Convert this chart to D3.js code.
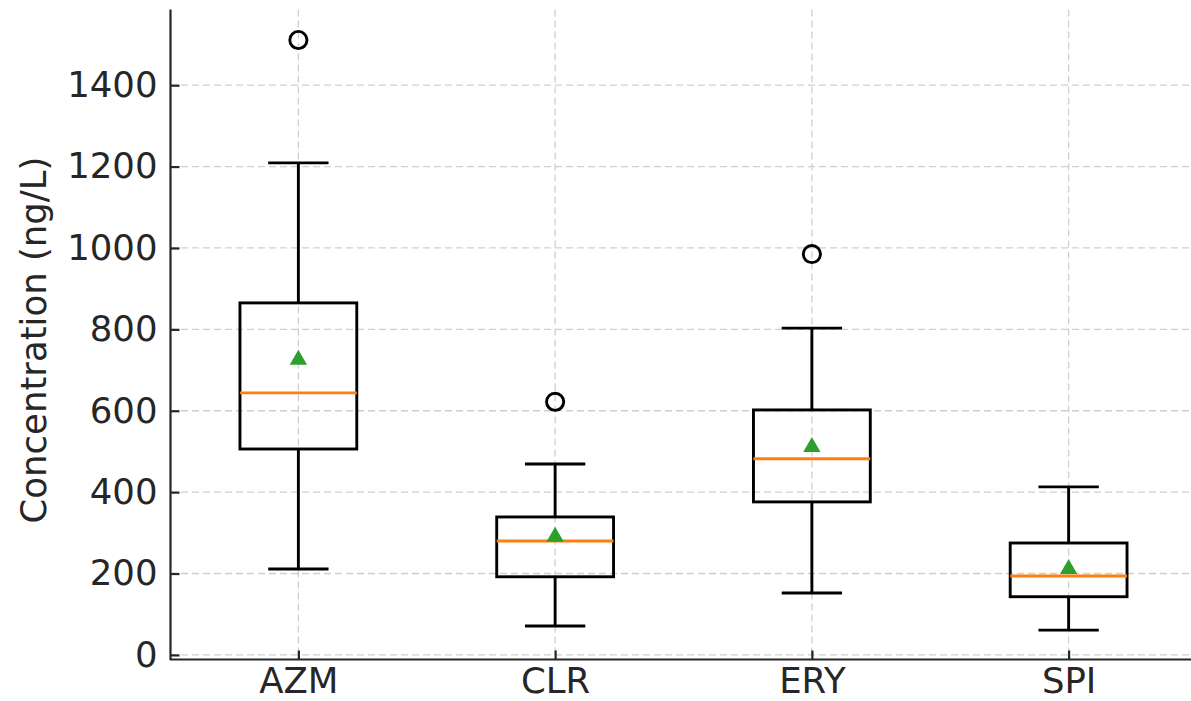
<!DOCTYPE html>
<html>
<head>
<meta charset="utf-8">
<script src="https://cdn.jsdelivr.net/npm/d3@7"></script>
<style>
  body { margin: 0; background: #fff; overflow: hidden; }
  text { font-family: "DejaVu Sans", sans-serif; fill: #262626; }
</style>
</head>
<body>
<svg id="chart"></svg>
<script>
// data (ng/L)
const categories = ['AZM', 'CLR', 'ERY', 'SPI'];
const whiskerLow = [211, 71, 152, 61];
const q1 = [506, 192, 376, 143];
const median = [644, 280, 482, 194];
const q3 = [865, 339, 602, 275];
const whiskerHigh = [1209, 469, 803, 413];
const means = [730, 295, 516, 216];
const outliers = [[1511], [622], [985], []];
const yTicks = [0, 200, 400, 600, 800, 1000, 1200, 1400];

const width = 1191;
const height = 701;

const svg = d3.select('#chart')
    .attr('width', width)
    .attr('height', height)
    .style('display', 'block');

const x = d3.scaleLinear().domain([0.5, 4.5]).range([170, 1197]);
const y = d3.scaleLinear().domain([-12.5, 1586]).range([660, 9.5]);
const boxW = 0.455;
const capW = 0.235;
const lw = 2.9;

// grid
const grid = svg.append('g')
    .attr('stroke', '#cfcfcf')
    .attr('stroke-width', 1.3)
    .attr('stroke-dasharray', '7,4');

grid.selectAll('.hgrid')
    .data(yTicks)
    .enter()
    .append('line')
        .attr('x1', 170).attr('x2', width)
        .attr('y1', d => y(d)).attr('y2', d => y(d));

grid.selectAll('.vgrid')
    .data(categories)
    .enter()
    .append('line')
        .attr('x1', (d, i) => x(i + 1)).attr('x2', (d, i) => x(i + 1))
        .attr('y1', 9.5).attr('y2', 660);

// boxes
const boxes = svg.append('g')
    .selectAll('g')
    .data(categories)
    .enter()
    .append('g');

boxes.append('line')
    .attr('x1', (d, i) => x(i + 1)).attr('x2', (d, i) => x(i + 1))
    .attr('y1', (d, i) => y(whiskerLow[i])).attr('y2', (d, i) => y(q1[i]));
boxes.append('line')
    .attr('x1', (d, i) => x(i + 1)).attr('x2', (d, i) => x(i + 1))
    .attr('y1', (d, i) => y(q3[i])).attr('y2', (d, i) => y(whiskerHigh[i]));
boxes.append('line')
    .attr('x1', (d, i) => x(i + 1 - capW / 2)).attr('x2', (d, i) => x(i + 1 + capW / 2))
    .attr('y1', (d, i) => y(whiskerLow[i])).attr('y2', (d, i) => y(whiskerLow[i]));
boxes.append('line')
    .attr('x1', (d, i) => x(i + 1 - capW / 2)).attr('x2', (d, i) => x(i + 1 + capW / 2))
    .attr('y1', (d, i) => y(whiskerHigh[i])).attr('y2', (d, i) => y(whiskerHigh[i]));
boxes.selectAll('line')
    .attr('stroke', '#000')
    .attr('stroke-width', lw);

boxes.append('rect')
    .attr('x', (d, i) => x(i + 1 - boxW / 2))
    .attr('width', x(1 + boxW) - x(1))
    .attr('y', (d, i) => y(q3[i]))
    .attr('height', (d, i) => y(q1[i]) - y(q3[i]))
    .attr('fill', 'none')
    .attr('stroke', '#000')
    .attr('stroke-width', lw);

boxes.append('line')
    .attr('x1', (d, i) => x(i + 1 - boxW / 2)).attr('x2', (d, i) => x(i + 1 + boxW / 2))
    .attr('y1', (d, i) => y(median[i])).attr('y2', (d, i) => y(median[i]))
    .attr('stroke', '#ff7f0e')
    .attr('stroke-width', lw);

boxes.append('path')
    .attr('d', d3.symbol(d3.symbolTriangle, 130))
    .attr('transform', (d, i) => `translate(${x(i + 1)},${y(means[i]) + 2})`)
    .attr('fill', '#2ca02c');

boxes.selectAll('circle')
    .data((d, i) => outliers[i].map(v => ({ pos: i + 1, v })))
    .enter()
    .append('circle')
        .attr('cx', d => x(d.pos))
        .attr('cy', d => y(d.v))
        .attr('r', 8.6)
        .attr('fill', 'none')
        .attr('stroke', '#000')
        .attr('stroke-width', lw);

// axes
const yAxis = svg.append('g')
    .attr('transform', 'translate(170.5,0)')
    .call(d3.axisLeft(y).tickValues(yTicks).tickFormat(d3.format('d'))
        .tickSizeInner(-9).tickSizeOuter(0).tickPadding(13));
const xAxis = svg.append('g')
    .attr('transform', 'translate(0,659.5)')
    .call(d3.axisBottom(x).tickValues([1, 2, 3, 4]).tickFormat((d, i) => categories[i])
        .tickSizeInner(-9).tickSizeOuter(0).tickPadding(9));

[yAxis, xAxis].forEach(a => {
    a.select('.domain').attr('stroke', '#262626').attr('stroke-width', 2.2);
    a.selectAll('.tick line').attr('stroke', '#262626').attr('stroke-width', 2.2);
    a.selectAll('text')
        .attr('font-size', 35.5)
        .attr('font-family', '"DejaVu Sans", sans-serif')
        .attr('fill', '#262626');
});
yAxis.select('.domain').attr('d', `M0,${y.range()[1]}V${y.range()[0]}`);
xAxis.select('.domain').attr('d', `M170,0H${width}`);
xAxis.selectAll('text').attr('dy', null).attr('y', 33);

svg.append('text')
    .attr('transform', 'translate(46,340) rotate(-90)')
    .attr('text-anchor', 'middle')
    .attr('font-size', 35.5)
    .text('Concentration (ng/L)');
</script>
</body>
</html>
